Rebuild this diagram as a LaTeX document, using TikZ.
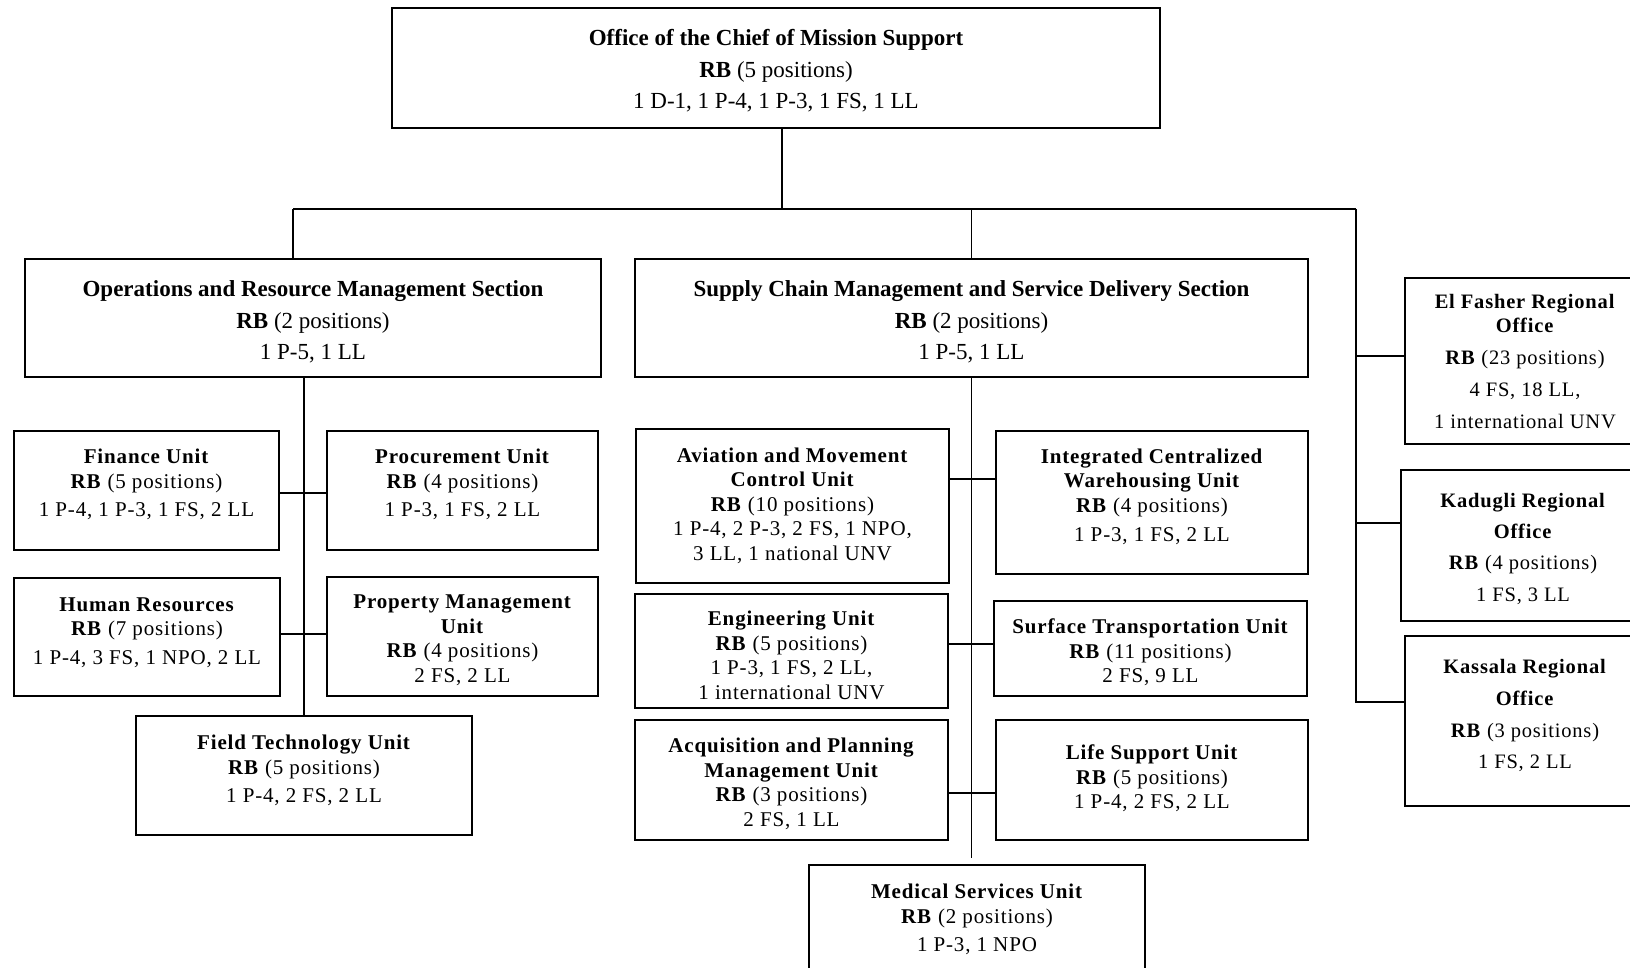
\documentclass[tikz,border=0pt]{standalone}
\usepackage{fontspec}
\setmainfont{Liberation Serif}
\newfontfamily\unitfamily[LetterSpace=4]{Liberation Serif}

\tikzset{
  box/.style={draw, line width=2.2pt, inner sep=0pt},
  wire/.style={line width=1.5pt},
  headtext/.style={align=center, inner sep=0pt, font=\fontsize{23}{31.5}\selectfont},
  unittext/.style={align=center, inner sep=0pt, font=\unitfamily\fontsize{21}{24.5}\selectfont},
  regtext/.style={align=center, inner sep=0pt, font=\unitfamily\fontsize{20.5}{24}\selectfont},
}

\begin{document}
\begin{tikzpicture}[x=1pt, y=-1pt]
\useasboundingbox (0,0) rectangle (1630,967);

% top office
\node[box, minimum width=768pt, minimum height=120pt] (chief) at (776,68) {};
\node[headtext] (chief-t) at (776,71) {\textbf{Office of the Chief of Mission Support}\\\textbf{RB} (5 positions)\\1 D-1, 1 P-4, 1 P-3, 1 FS, 1 LL};

% sections
\node[box, minimum width=576pt, minimum height=118pt] (orms) at (313,318) {};
\node[headtext] (orms-t) at (313,322) {\textbf{Operations and Resource Management Section}\\\textbf{RB} (2 positions)\\1 P-5, 1 LL};

\node[box, minimum width=673pt, minimum height=118pt] (scm) at (971.5,318) {};
\node[headtext] (scm-t) at (971.5,322) {\textbf{Supply Chain Management and Service Delivery Section}\\\textbf{RB} (2 positions)\\1 P-5, 1 LL};

% operations and resource management units
\node[box, minimum width=265pt, minimum height=119pt] (fin) at (146.5,490.5) {};
\node[unittext] (fin-t) at (146.5,484.5) {\textbf{Finance Unit}\\\textbf{RB} (5 positions)\\[4pt]1 P-4, 1 P-3, 1 FS, 2 LL};

\node[box, minimum width=271pt, minimum height=119pt] (proc) at (462.5,490.5) {};
\node[unittext] (proc-t) at (462.5,484.5) {\textbf{Procurement Unit}\\\textbf{RB} (4 positions)\\[4pt]1 P-3, 1 FS, 2 LL};

\node[box, minimum width=266pt, minimum height=118pt] (hr) at (147,637) {};
\node[unittext] (hr-t) at (147,632.5) {\textbf{Human Resources}\\\textbf{RB} (7 positions)\\[4pt]1 P-4, 3 FS, 1 NPO, 2 LL};

\node[box, minimum width=271pt, minimum height=119pt] (prop) at (462.5,636.5) {};
\node[unittext] (prop-t) at (462.5,640) {\textbf{Property Management}\\\textbf{Unit}\\\textbf{RB} (4 positions)\\2 FS, 2 LL};

\node[box, minimum width=336pt, minimum height=119pt] (ftu) at (304,775.5) {};
\node[unittext] (ftu-t) at (304,770.5) {\textbf{Field Technology Unit}\\\textbf{RB} (5 positions)\\[4pt]1 P-4, 2 FS, 2 LL};

% supply chain units
\node[box, minimum width=313pt, minimum height=154pt] (avi) at (792.5,506) {};
\node[unittext] (avi-t) at (792.5,505.5) {\textbf{Aviation and Movement}\\\textbf{Control Unit}\\\textbf{RB} (10 positions)\\1 P-4, 2 P-3, 2 FS, 1 NPO,\\3 LL, 1 national UNV};

\node[box, minimum width=312pt, minimum height=143pt] (icw) at (1152,502.5) {};
\node[unittext] (icw-t) at (1152,497) {\textbf{Integrated Centralized}\\\textbf{Warehousing Unit}\\\textbf{RB} (4 positions)\\[5pt]1 P-3, 1 FS, 2 LL};

\node[box, minimum width=313pt, minimum height=114pt] (eng) at (791.5,651) {};
\node[unittext] (eng-t) at (791.5,655.5) {\textbf{Engineering Unit}\\\textbf{RB} (5 positions)\\1 P-3, 1 FS, 2 LL,\\1 international UNV};

\node[box, minimum width=313pt, minimum height=95pt] (stu) at (1150.5,648.5) {};
\node[unittext] (stu-t) at (1150.5,652.5) {\textbf{Surface Transportation Unit}\\\textbf{RB} (11 positions)\\2 FS, 9 LL};

\node[box, minimum width=313pt, minimum height=120pt] (acq) at (791.5,780) {};
\node[unittext] (acq-t) at (791.5,784) {\textbf{Acquisition and Planning}\\\textbf{Management Unit}\\\textbf{RB} (3 positions)\\2 FS, 1 LL};

\node[box, minimum width=312pt, minimum height=120pt] (lsu) at (1152,780) {};
\node[unittext] (lsu-t) at (1152,778.5) {\textbf{Life Support Unit}\\\textbf{RB} (5 positions)\\1 P-4, 2 FS, 2 LL};

\node[box, minimum width=336pt, minimum height=120pt] (med) at (977,925) {};
\node[unittext] (med-t) at (977,919.5) {\textbf{Medical Services Unit}\\\textbf{RB} (2 positions)\\[4pt]1 P-3, 1 NPO};

% regional offices
\node[box, minimum width=240pt, minimum height=166pt] (elf) at (1525,361) {};
\node[regtext] (elf-t) at (1525,362) {\textbf{El Fasher Regional}\\\textbf{Office}\\[8pt]\textbf{RB} (23 positions)\\[8pt]4 FS, 18 LL,\\[8pt]1 international UNV};

\node[box, minimum width=244pt, minimum height=151pt] (kad) at (1523,545.5) {};
\node[regtext] (kad-t) at (1523,549) {\textbf{Kadugli Regional}\\[7pt]\textbf{Office}\\[7pt]\textbf{RB} (4 positions)\\[8pt]1 FS, 3 LL};

\node[box, minimum width=240pt, minimum height=170pt] (kas) at (1525,721) {};
\node[regtext] (kas-t) at (1525,715) {\textbf{Kassala Regional}\\[8pt]\textbf{Office}\\[8pt]\textbf{RB} (3 positions)\\[7pt]1 FS, 2 LL};

% top-level connectors
\coordinate (busL) at (293,209);
\coordinate (busR) at (1356,209);
\draw[wire] ([xshift=6pt]chief.south) -- ([xshift=6pt]chief.south |- busL);
\draw[wire] (busL) -- (busR);
\draw[wire] (busL) -- (busL |- orms.north);
\draw[wire] (scm.north) -- (scm.north |- busL);

% regional branch
\coordinate (elfJ) at (1356,356);
\coordinate (kadJ) at (1356,523);
\coordinate (kasJ) at (1356,702);
\draw[wire] (busR) -- (kasJ) -- (kasJ -| kas.west);
\draw[wire] (elfJ) -- (elfJ -| elf.west);
\draw[wire] (kadJ) -- (kadJ -| kad.west);

% operations and resource management spine
\draw[wire] (orms.south -| ftu.north) -- (ftu.north);
\coordinate (oj1) at (306,493);
\coordinate (oj2) at (306,634);
\draw[wire] (oj1 -| fin.east) -- (oj1 -| proc.west);
\draw[wire] (oj2 -| hr.east) -- (oj2 -| prop.west);

% supply chain spine
\draw[wire, shorten >=6pt] (scm.south) -- (scm.south |- med.north);
\coordinate (sj1) at (972,479);
\coordinate (sj2) at (972,644);
\coordinate (sj3) at (972,793);
\draw[wire] (sj1 -| avi.east) -- (sj1 -| icw.west);
\draw[wire] (sj2 -| eng.east) -- (sj2 -| stu.west);
\draw[wire] (sj3 -| acq.east) -- (sj3 -| lsu.west);
\end{tikzpicture}
\end{document}
